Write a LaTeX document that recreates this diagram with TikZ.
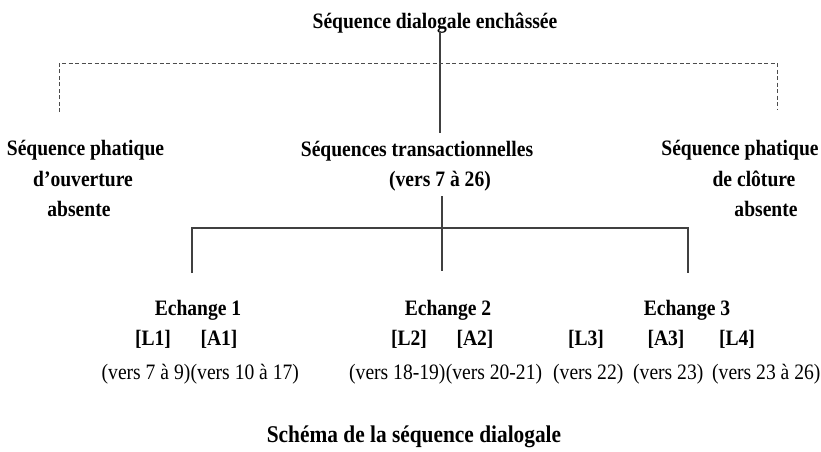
\documentclass[tikz,border=0pt]{standalone}
\usepackage{fontspec}
\setmainfont{Liberation Serif}[FakeStretch=0.89]
\begin{document}
\begin{tikzpicture}[x=1pt,y=-1pt,
  lbl/.style={inner sep=0pt, anchor=base, font=\fontsize{22}{26}\selectfont\bfseries},
  vers/.style={inner sep=0pt, anchor=base west, font=\fontsize{22}{26}\selectfont},
  capt/.style={inner sep=0pt, anchor=base, font=\fontsize{24}{28}\selectfont\bfseries},
  link/.style={draw=black!75, line width=1.1pt},
  dashlink/.style={draw=black!70, line width=1pt, dash pattern=on 4pt off 2.5pt}]
\useasboundingbox (0,0) rectangle (821,451);
% title
\node[lbl] (title) at (435,28) {Séquence dialogale enchâssée};
% level 2
\node[lbl] (left1) at (85.5,155) {Séquence phatique};
\node[lbl] (left2) at (83,186) {d’ouverture};
\node[lbl] (left3) at (79,216.5) {absente};
\node[lbl] (trans1) at (417,156) {Séquences transactionnelles};
\node[lbl] (trans2) at (440,186.5) {(vers 7 à 26)};
\node[lbl] (right1) at (740,155) {Séquence phatique};
\node[lbl] (right2) at (754,186) {de clôture};
\node[lbl] (right3) at (766,216.5) {absente};
% level 3
\node[lbl] (ech1) at (198,315) {Echange 1};
\node[lbl] (ech2) at (448,315) {Echange 2};
\node[lbl] (ech3) at (687,315) {Echange 3};
\node[lbl] (l1) at (153,345) {[L1]};
\node[lbl] (a1) at (219,345) {[A1]};
\node[lbl] (l2) at (409,345) {[L2]};
\node[lbl] (a2) at (475,345) {[A2]};
\node[lbl] (l3) at (586,345) {[L3]};
\node[lbl] (a3) at (666,345) {[A3]};
\node[lbl] (l4) at (737,345) {[L4]};
\node[vers] (v1) at (101.5,379) {(vers 7 à 9)};
\node[vers] (v2) at (v1.base east) {(vers 10 à 17)};
\node[vers] (v3) at (349,379) {(vers 18-19)};
\node[vers] (v4) at (v3.base east) {(vers 20-21)};
\node[vers] (v5) at (553,379) {(vers 22)};
\node[vers] (v6) at (633,379) {(vers 23)};
\node[vers] (v7) at (712,379) {(vers 23 à 26)};
% caption
\node[capt] (caption) at (414,442) {Schéma de la séquence dialogale};
% connector anchors
\coordinate (ttop) at (440,31);
\coordinate (tbot) at (440,133);
\coordinate (dtop) at (440,63);
\coordinate (dl) at (59,112);
\coordinate (dr) at (777,109);
\coordinate (mtop) at (442,196);
\coordinate (hb) at (442,228);
\coordinate (e1) at (192,273);
\coordinate (e2) at (442,271);
\coordinate (e3) at (688,273);
% connectors
\draw[link] (ttop) -- (tbot);
\draw[dashlink] (dl) -- (dl |- dtop) -- (dr |- dtop) -- (dr);
\draw[link] (mtop) -- (e2);
\draw[link] (e1) -- (e1 |- hb) -- (e3 |- hb) -- (e3);
\end{tikzpicture}
\end{document}
